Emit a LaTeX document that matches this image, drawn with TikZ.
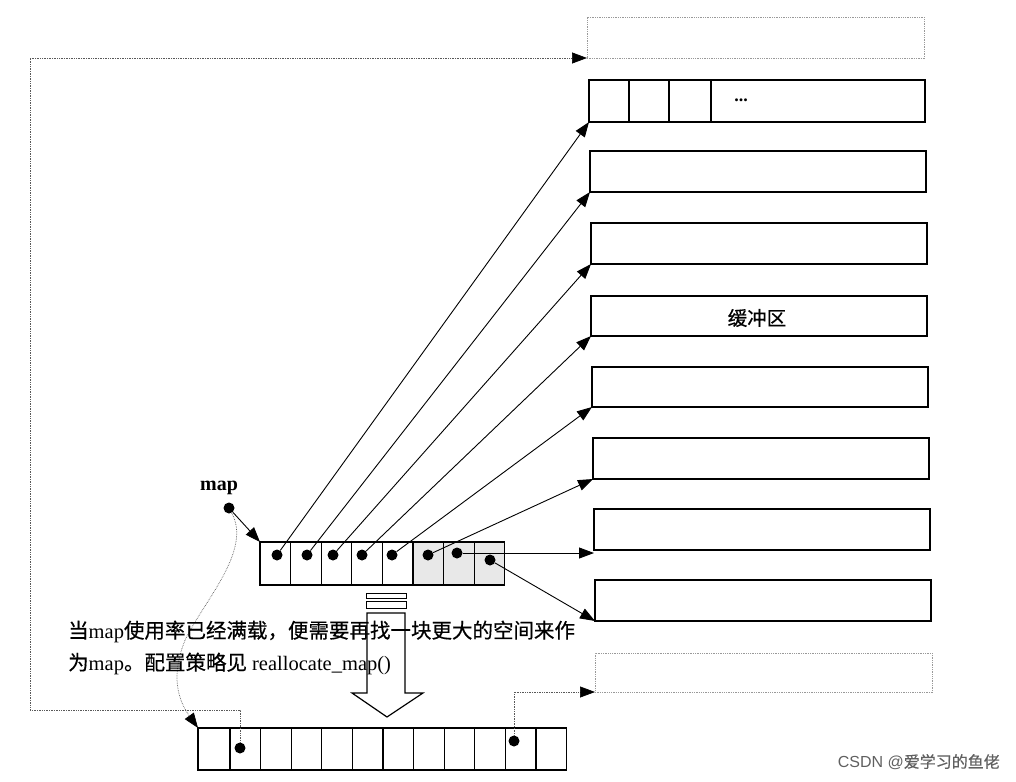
\documentclass[tikz,border=0pt]{standalone}
\usepackage{fontspec}
\setmainfont{Liberation Serif}
\newfontfamily\cjk[FakeBold=0.5]{Noto Sans CJK SC}
\newfontfamily\wmsans{Liberation Sans}
\usepackage{tikz}
\usetikzlibrary{arrows.meta}
\tikzstyle{Box}=[draw,line width=1.3pt,inner sep=0pt,outer sep=0pt,
anchor=north west]
\tikzstyle{Buffer}=[Box,minimum width=336pt,minimum height=41pt]
\tikzstyle{Ghost}=[Box,draw=gray!80,densely dotted,line width=.7pt,
minimum width=337pt,minimum height=41pt]
\tikzstyle{Cell}=[Box,minimum width=30.6pt,minimum height=43pt]
\tikzstyle{Shaded}=[Cell,fill=gray!18]
\tikzstyle{Dot}=[circle,fill=black,inner sep=0pt,minimum size=11pt]
\tikzstyle{Edge}=[draw,line width=.9pt,-{Triangle[length=15pt,width=11pt]}]
\tikzstyle{Link}=[draw=gray!70!black,densely dotted,line width=.7pt,
-{Triangle[length=15pt,width=11pt,black]}]
\tikzstyle{Note}=[inner sep=0pt,font=\fontsize{20.5}{24}\selectfont]
\tikzstyle{Mark}=[inner sep=0pt,text=gray!75!black,
font=\wmsans\fontsize{16}{18}\selectfont]

\begin{document}
\begin{tikzpicture}[x=1pt,y=-1pt]
        \useasboundingbox(0,0)rectangle(1016,781);
        % buffers on the right
        \node[Ghost](t0)at(587,17){};
        \node[Buffer,minimum height=42pt](b1)at(589,80){};
        \node[Buffer](b2)at(590,151){};
        \node[Buffer](b3)at(591,223){};
        \node[Buffer,minimum height=40pt](b4)at(591,296){};
        \node[Buffer,minimum height=40pt](b5)at(592,367){};
        \node[Buffer](b6)at(593,438){};
        \node[Buffer](b7)at(594,509){};
        \node[Buffer](b8)at(595,580){};
        \node[Ghost,minimum height=39pt](t9)at(595,653){};
        \draw[line width=1.3pt]([xshift=40pt]b1.north west)
            --([xshift=40pt]b1.south west);
        \draw[line width=1.3pt]([xshift=80pt]b1.north west)
            --([xshift=80pt]b1.south west);
        \draw[line width=1.3pt]([xshift=122pt]b1.north west)
            --([xshift=122pt]b1.south west);
        \node[inner sep=0pt,font=\bfseries\fontsize{18}{20}\selectfont](dots)
            at(741,100){...};
        \node[inner sep=0pt,font=\cjk\fontsize{19.5}{22}\selectfont](lbl)
            at(757,318){缓冲区};
        % the map
        \node[Cell](m1)at(260.0,542){};
        \node[Cell](m2)at(290.6,542){};
        \node[Cell](m3)at(321.2,542){};
        \node[Cell](m4)at(351.8,542){};
        \node[Cell](m5)at(382.4,542){};
        \node[Shaded](m6)at(413.0,542){};
        \node[Shaded](m7)at(443.6,542){};
        \node[Shaded](m8)at(474.2,542){};
        \node[inner sep=0pt,font=\bfseries\fontsize{20}{22}\selectfont](map)
            at(219,488){map};
        \node[Dot](md)at(229,508){};
        \node[Dot](d1)at(277,555){};
        \node[Dot](d2)at(307,555){};
        \node[Dot](d3)at(333,555){};
        \node[Dot](d4)at(362,555){};
        \node[Dot](d5)at(392,555){};
        \node[Dot](d6)at(428,555){};
        \node[Dot](d7)at(457,553){};
        \node[Dot](d8)at(490,560){};
        \draw[Edge](md)--(m1.north west);
        \draw[Edge](d1)--(b1.south west);
        \draw[Edge](d2)--(b2.south west);
        \draw[Edge](d3)--(b3.south west);
        \draw[Edge](d4)--(b4.south west);
        \draw[Edge](d5)--(b5.south west);
        \draw[Edge](d6)--(b6.south west);
        \draw[Edge](d7)--(d7-|b7.south west);
        \draw[Edge](d8)--(b8.south west);
        % the new map
        \node[Cell,minimum width=32pt,minimum height=42pt](n1)at(198,728){};
        \node[Cell,minimum height=42pt](n2)at(230.0,728){};
        \node[Cell,minimum height=42pt](n3)at(260.6,728){};
        \node[Cell,minimum height=42pt](n4)at(291.2,728){};
        \node[Cell,minimum height=42pt](n5)at(321.8,728){};
        \node[Cell,minimum height=42pt](n6)at(352.4,728){};
        \node[Cell,minimum height=42pt](n7)at(383.0,728){};
        \node[Cell,minimum height=42pt](n8)at(413.6,728){};
        \node[Cell,minimum height=42pt](n9)at(444.2,728){};
        \node[Cell,minimum height=42pt](n10)at(474.8,728){};
        \node[Cell,minimum height=42pt](n11)at(505.4,728){};
        \node[Cell,minimum height=42pt](n12)at(536.0,728){};
        \node[Dot](e1)at(240,748){};
        \node[Dot](e2)at(514,741){};
        \coordinate(c1)at(30,710);
        \coordinate(c2)at(186,638);
        \draw[Link](e1)|-(c1)|-(t0.south west);
        \draw[Link](e2)|-(t9.south west);
        \draw[Link](md)..controls(252,550)and(205,600)..(c2)
            ..controls(170,675)and(178,700)..(n1.north west);
        % note
        \node[Note,anchor=base west](l1)at(68,638)
            {{\cjk 当}map{\cjk 使用率已经满载，便需要再找一块更大的空间来作}};
        \node[Note,anchor=base west](l2)at(68,670)
            {{\cjk 为}map{\cjk 。配置策略见} reallocate\_map()};
        % big arrow
        \draw[line width=1pt](366,593)rectangle(406,598);
        \draw[line width=1pt](366,601)rectangle(406,608);
        \draw[line width=1.2pt](367,693)--(367,613)--(405,613)--(405,693)
            --(423,693)--(387,717)--(352,693)--cycle;
        \node[Mark,anchor=east](wm)at(1000,762){CSDN @{\cjk 爱学习的鱼佬}};
    \end{tikzpicture}
\end{document}
